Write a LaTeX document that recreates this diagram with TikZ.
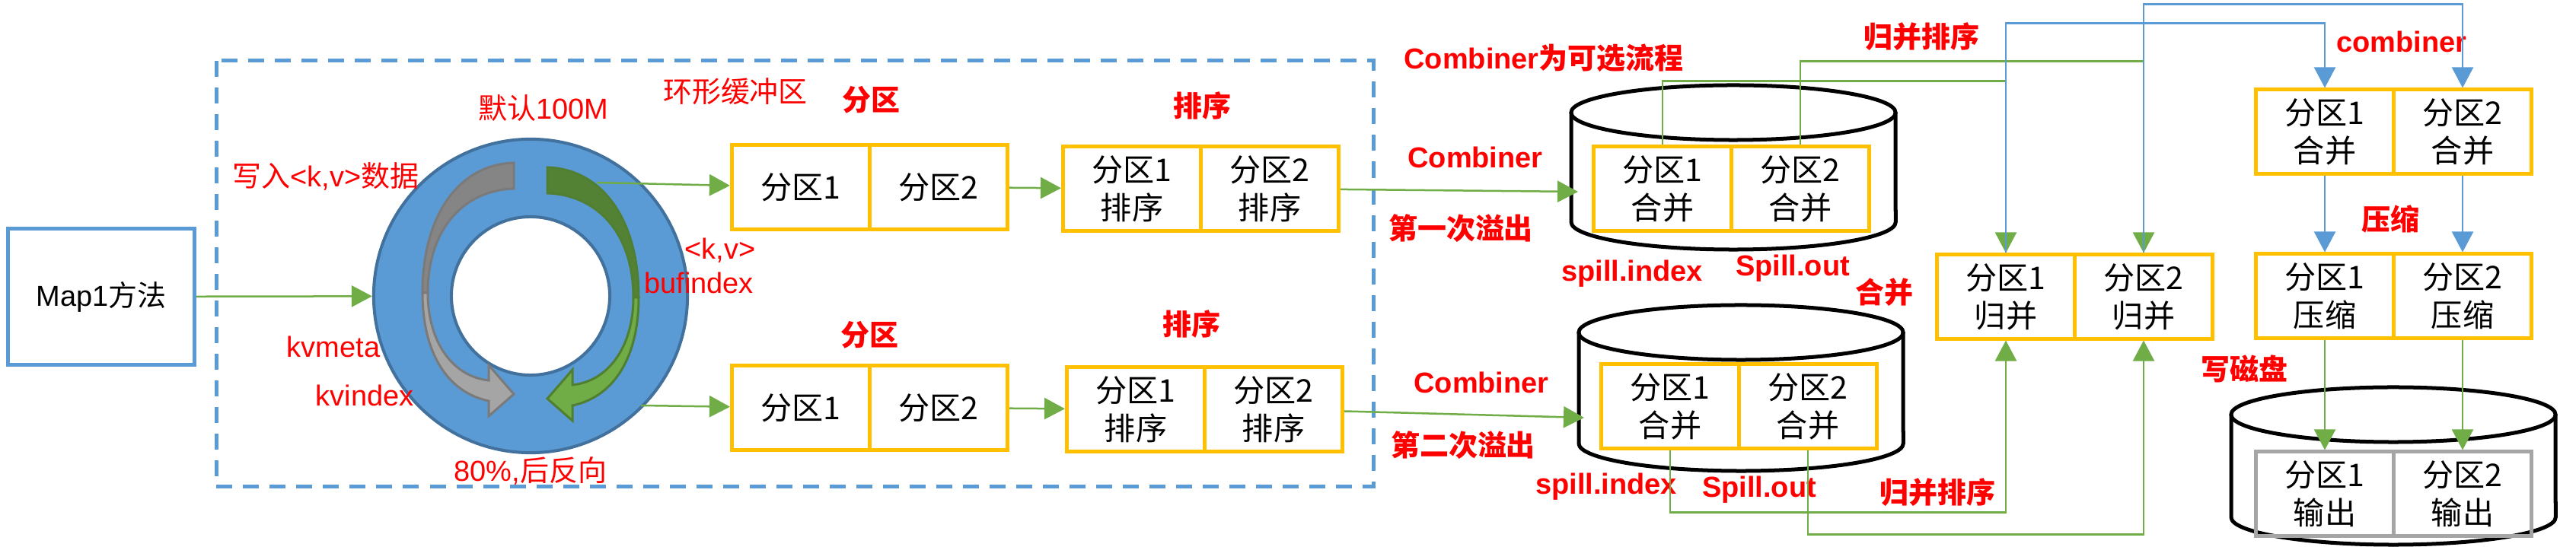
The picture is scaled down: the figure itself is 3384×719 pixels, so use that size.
\documentclass[tikz,border=0pt]{standalone}
\usepackage{fontspec}
\setmainfont{Liberation Sans}
\newfontfamily\cjk{Noto Sans CJK SC}
\usetikzlibrary{arrows.meta}
\definecolor{mblue}{HTML}{5B9BD5}
\definecolor{dblue}{HTML}{41719C}
\definecolor{byellow}{HTML}{FFC000}
\definecolor{lgreen}{HTML}{70AD47}
\definecolor{dgreen}{HTML}{548235}
\definecolor{egreen}{HTML}{507E32}
\definecolor{lred}{HTML}{FF0000}
\definecolor{lgray}{HTML}{A5A5A5}
\definecolor{mgray}{HTML}{858585}
\definecolor{dgray}{HTML}{7A7A7A}
\newcommand\zh[1]{{\cjk #1}}
\tikzset{
  cell/.style={draw=byellow, line width=0.05cm, minimum width=1.81cm, minimum height=1.1cm,
    inner sep=0pt, align=center, font=\cjk\fontsize{11.7pt}{14.2pt}\selectfont},
  outcell/.style={cell, draw=lgray},
  note/.style={text=lred, inner sep=0pt, font=\fontsize{10.8pt}{13pt}\selectfont},
  tag/.style={note, font=\bfseries\fontsize{10.8pt}{13pt}\selectfont},
  garrow/.style={draw=lgreen, line width=0.025cm, -{Triangle[length=0.27cm,width=0.28cm]}},
  barrow/.style={garrow, draw=mblue},
  cyl/.style={draw=black, line width=0.05cm},
}

\begin{document}
\begin{tikzpicture}[x=0.01cm, y=-0.01cm]
  \useasboundingbox (0,0) rectangle (3384,719);
  % map task and ring buffer
  \node[draw=mblue, line width=0.05cm, minimum width=2.45cm, minimum height=1.79cm, inner sep=0pt,
    font=\fontsize{10.8pt}{13pt}\selectfont] (map) at (133,390) {Map1\zh{方法}};
  \draw[mblue, line width=0.05cm, dash pattern=on 0.21cm off 0.14cm] (284,80) rectangle (1804,640);
  \node[circle, fill=mblue, draw=dblue, line width=0.04cm, minimum size=4.12cm, inner sep=0pt] (ring) at (697,389) {};
  \node[circle, fill=white, draw=dblue, line width=0.04cm, minimum size=2.08cm, inner sep=0pt] (hole) at (697,389) {};
  \filldraw[fill=mgray, draw=dgray, line width=0.03cm] (675,214) -- (675,248)
    .. controls (610,250) and (562,300) .. (562,385) -- (555,385)
    .. controls (555,280) and (605,216) .. (675,214) -- cycle;
  \filldraw[fill=lgray, draw=dgray, line width=0.03cm] (562,385)
    .. controls (562,450) and (595,495) .. (642,500) -- (642,480) -- (675,518) -- (642,547) -- (642,527)
    .. controls (585,515) and (555,460) .. (555,385) -- cycle;
  \begin{scope}[shift={(1394,6)}, xscale=-1]
    \filldraw[fill=dgreen, draw=egreen, line width=0.03cm] (675,214) -- (675,248)
      .. controls (610,250) and (562,300) .. (562,385) -- (555,385)
      .. controls (555,280) and (605,216) .. (675,214) -- cycle;
    \filldraw[fill=lgreen, draw=egreen, line width=0.03cm] (562,385)
      .. controls (562,450) and (595,495) .. (642,500) -- (642,480) -- (675,518) -- (642,547) -- (642,527)
      .. controls (585,515) and (555,460) .. (555,385) -- cycle;
  \end{scope}
  \coordinate (kvout1) at (784,240);
  \coordinate (kvout2) at (842,533);
  \node[note] (lbldefault) at (714,142) {\zh{默认}100M};
  \node[note] (lblring) at (966,120) {\zh{环形缓冲区}};
  \node[note] (lblwrite) at (428,232) {\zh{写入}<k,v>\zh{数据}};
  \node[note] (lblkvmeta) at (438,456) {kvmeta};
  \node[note] (lblkvindex) at (479,520) {kvindex};
  \node[note] (lblpct) at (697,619) {80\%,\zh{后反向}};
  \node[note] (lblkv) at (946,329) {<k,v>};
  \node[note] (lblbuf) at (918,372) {bufindex};

  % partition and sort
  \node[cell] (p1a) at (1052,246) {分区1};
  \node[cell] (p1b) at (1233,246) {分区2};
  \node[cell] (s1a) at (1487,248) {分区1\\排序};
  \node[cell] (s1b) at (1668,248) {分区2\\排序};
  \node[cell] (p2a) at (1052,536) {分区1};
  \node[cell] (p2b) at (1233,536) {分区2};
  \node[cell] (s2a) at (1492,538) {分区1\\排序};
  \node[cell] (s2b) at (1673,538) {分区2\\排序};
  \node[tag] (lblpart1) at (1144,131) {\zh{分区}};
  \node[tag] (lblsort1) at (1579,139) {\zh{排序}};
  \node[tag] (lblpart2) at (1142,440) {\zh{分区}};
  \node[tag] (lblsort2) at (1565,426) {\zh{排序}};

  % spill files
  \draw[cyl] (2064,148) -- (2064,292) arc[start angle=180, end angle=360, x radius=2.13cm, y radius=0.36cm] -- (2490,148);
  \draw[cyl] (2277,148) ellipse[x radius=2.13cm, y radius=0.36cm];
  \draw[cyl] (2074,437) -- (2074,583) arc[start angle=180, end angle=360, x radius=2.13cm, y radius=0.36cm] -- (2500,437);
  \draw[cyl] (2287,437) ellipse[x radius=2.13cm, y radius=0.36cm];
  \coordinate (spill1in) at (2073,252);
  \coordinate (spill2in) at (2081,549);
  \node[cell] (c1a) at (2184,248) {分区1\\合并};
  \node[cell] (c1b) at (2365,248) {分区2\\合并};
  \node[cell] (c2a) at (2194,534) {分区1\\合并};
  \node[cell] (c2b) at (2375,534) {分区2\\合并};
  \node[tag] (lblopt) at (2028,76) {Combiner\zh{为可选流程}};
  \node[tag] (lblcomb1) at (1938,207) {Combiner};
  \node[tag] (lblspill1) at (1919,300) {\zh{第一次溢出}};
  \node[tag] (lblcomb2) at (1946,503) {Combiner};
  \node[tag] (lblspill2) at (1922,585) {\zh{第二次溢出}};
  \node[tag] (lblidx1) at (2144,360) {spill.index};
  \node[tag] (lblout1) at (2355,353) {Spill.out};
  \node[tag] (lblmerge) at (2475,384) {\zh{合并}};
  \node[tag] (lblidx2) at (2110,640) {spill.index};
  \node[tag] (lblout2) at (2311,644) {Spill.out};

  % merge, combine, compress, output
  \node[cell] (m1a) at (2635,390) {分区1\\归并};
  \node[cell] (m1b) at (2816,390) {分区2\\归并};
  \node[cell] (k1a) at (3054,173) {分区1\\合并};
  \node[cell] (k1b) at (3235,173) {分区2\\合并};
  \node[cell] (z1a) at (3054,389) {分区1\\压缩};
  \node[cell] (z1b) at (3235,389) {分区2\\压缩};
  \draw[cyl] (2931,545) -- (2931,680) arc[start angle=180, end angle=360, x radius=2.13cm, y radius=0.36cm] -- (3357,545);
  \draw[cyl] (3144,545) ellipse[x radius=2.13cm, y radius=0.36cm];
  \node[outcell] (o1a) at (3054,649) {分区1\\输出};
  \node[outcell] (o1b) at (3235,649) {分区2\\输出};
  \node[tag] (lblsortA) at (2524,48) {\zh{归并排序}};
  \node[tag] (lblsortB) at (2545,647) {\zh{归并排序}};
  \node[tag] (lblcombiner) at (3155,55) {combiner};
  \node[tag] (lblzip) at (3140,288) {\zh{压缩}};
  \node[tag] (lbldisk) at (2948,485) {\zh{写磁盘}};

  % connectors
  \draw[garrow] (map) -- (ring);
  \draw[garrow] (kvout1) -- (p1a);
  \draw[garrow] (kvout2) -- (p2a);
  \draw[garrow] (p1b) -- (s1a);
  \draw[garrow] (p2b) -- (s2a);
  \draw[garrow] (s1b) -- (spill1in);
  \draw[garrow] (s2b) -- (spill2in);
  \draw[garrow] (c1a.north) -- ++(0,-84) -| (m1a.north);
  \draw[garrow] (c1b.north) -- ++(0,-110) -| (m1b.north);
  \draw[garrow] (c2a.south) -- ++(0,82) -| (m1a.south);
  \draw[garrow] (c2b.south) -- ++(0,111) -| (m1b.south);
  \draw[barrow] (m1a.north) -- ++(0,-302) -| (k1a.north);
  \draw[barrow] (m1b.north) -- ++(0,-327) -| (k1b.north);
  \draw[barrow] (k1a) -- (z1a);
  \draw[barrow] (k1b) -- (z1b);
  \draw[garrow] (z1a) -- (o1a);
  \draw[garrow] (z1b) -- (o1b);
\end{tikzpicture}
\end{document}
